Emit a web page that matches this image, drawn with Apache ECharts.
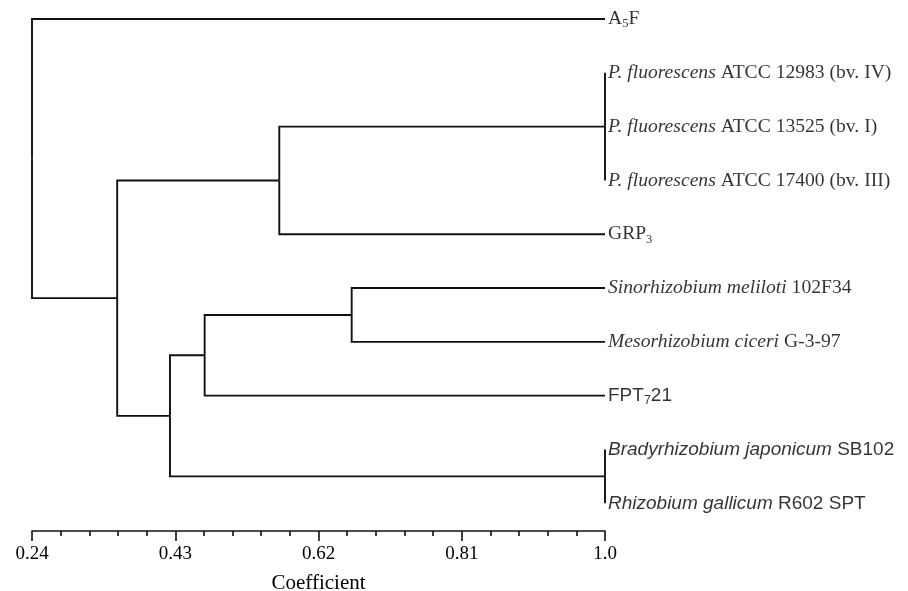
<!DOCTYPE html>
<html><head><meta charset="utf-8">
<script src="https://cdn.jsdelivr.net/npm/echarts@6/dist/echarts.min.js"></script>
<style>html,body{margin:0;padding:0;background:#fff}#c{width:908px;height:591px}</style>
</head><body><div id="c"></div>
<script>
// Leaf labels, top to bottom (rich-text markup only for italics / subscripts)
const leafLabels = [
  '{s|A}{ssub|5}{s|F}',
  '{si|P. fluorescens }{s|ATCC 12983 (bv. IV)}',
  '{si|P. fluorescens }{s|ATCC 13525 (bv. I)}',
  '{si|P. fluorescens }{s|ATCC 17400 (bv. III)}',
  '{s|GRP}{ssub|3}',
  '{si|Sinorhizobium meliloti }{s|102F34}',
  '{si|Mesorhizobium ciceri }{s|G-3-97}',
  '{a|FPT}{asub|7}{a|21}',
  '{ai|Bradyrhizobium japonicum }{a|SB102}',
  '{ai|Rhizobium gallicum }{a|R602 SPT}'
];
// Leaves all sit at coefficient 1.0
const leafCoef = [1.0, 1.0, 1.0, 1.0, 1.0, 1.0, 1.0, 1.0, 1.0, 1.0];
// Merges (children: 'L#' = leaf index, 'N#' = merge index) and their coefficient levels
const mergeChildren = [
  ['L1', 'L2', 'L3'],   // N0
  ['L8', 'L9'],         // N1
  ['L5', 'L6'],         // N2
  ['N2', 'L7'],         // N3
  ['N3', 'N1'],         // N4
  ['N0', 'L4'],         // N5
  ['N5', 'N4'],         // N6
  ['L0', 'N6']          // N7 (root)
];
const mergeLevels = [1.0, 1.0, 0.664, 0.469, 0.423, 0.568, 0.353, 0.24];
// Axis ticks
const majorTicks = [0.24, 0.43, 0.62, 0.81, 1.0];
const tickLabels = ['0.24', '0.43', '0.62', '0.81', '1.0'];
const axisTitle = 'Coefficient';

// ---- build tree geometry in data units ----
const nodePos = {};
leafLabels.forEach((_, i) => { nodePos['L' + i] = [leafCoef[i], i]; });
mergeChildren.forEach((ch, m) => {
  const ys = ch.map(c => nodePos[c][1]);
  nodePos['N' + m] = [mergeLevels[m], (Math.min(...ys) + Math.max(...ys)) / 2];
});
const links = [];
mergeChildren.forEach((ch, m) => {
  const p = nodePos['N' + m];
  ch.forEach(c => { const q = nodePos[c]; links.push([p[0], p[1], q[0], q[1]]); });
});
const minorTicks = [];
for (let i = 0; i < majorTicks.length - 1; i++) {
  const a = majorTicks[i], b = majorTicks[i + 1];
  for (let k = 1; k < 5; k++) minorTicks.push(+(a + (b - a) * k / 5).toFixed(4));
}

const serif = 'Liberation Serif';
const sans = 'Liberation Sans';
const ink = '#111';
const txt = '#000';

const chart = echarts.init(document.getElementById('c'));
chart.setOption({
  animation: false,
  backgroundColor: '#fff',
  grid: { left: 32, right: 303, top: 19, bottom: 60, outerBoundsMode: 'none', containLabel: false },
  xAxis: [{
    type: 'value', min: 0.24, max: 1.0, position: 'bottom',
    axisLine: { show: true, onZero: false, lineStyle: { color: ink, width: 1.6 } },
    axisTick: { show: true, customValues: majorTicks, length: 10, lineStyle: { color: ink, width: 1.6 } },
    axisLabel: {
      customValues: majorTicks, showMinLabel: true, showMaxLabel: true,
      formatter: v => { const i = majorTicks.findIndex(t => Math.abs(t - v) < 1e-6); return i >= 0 ? tickLabels[i] : ''; },
      fontFamily: serif, fontSize: 19, color: txt, margin: 14
    },
    splitLine: { show: false },
    name: axisTitle, nameLocation: 'middle', nameGap: 42,
    nameTextStyle: { fontFamily: serif, fontSize: 21, color: txt }
  }, {
    type: 'value', min: 0.24, max: 1.0, position: 'bottom', gridIndex: 0,
    axisLine: { show: false, onZero: false },
    axisTick: { show: true, customValues: minorTicks, length: 5, lineStyle: { color: ink, width: 1.6 } },
    axisLabel: { show: false },
    splitLine: { show: false }
  }],
  yAxis: { type: 'value', inverse: true, min: 0, max: 9.515, show: false },
  series: [{
    type: 'custom',
    clip: false,
    data: links,
    renderItem: (params, api) => {
      const p = api.coord([api.value(0), api.value(1)]);
      const c = api.coord([api.value(2), api.value(3)]);
      return {
        type: 'polyline',
        shape: { points: [p, [p[0], c[1]], c] },
        style: { stroke: ink, lineWidth: 1.9, fill: null, lineJoin: 'miter' }
      };
    }
  }, {
    type: 'scatter',
    symbolSize: 0,
    data: leafLabels.map((_, i) => [leafCoef[i], i]),
    label: {
      show: true, position: 'right', distance: 3,
      formatter: p => leafLabels[p.dataIndex],
      rich: {
        s: { fontFamily: serif, fontSize: 19.6, color: txt },
        si: { fontFamily: serif, fontSize: 19.6, fontStyle: 'italic', color: txt },
        ssub: { fontFamily: serif, fontSize: 12.5, color: txt, padding: [10, 0, 0, 0] },
        a: { fontFamily: sans, fontSize: 19, color: txt },
        ai: { fontFamily: sans, fontSize: 19, fontStyle: 'italic', color: txt },
        asub: { fontFamily: sans, fontSize: 12.5, color: txt, padding: [10, 0, 0, 0] }
      }
    },
    silent: true
  }]
});
</script>
</body></html>
